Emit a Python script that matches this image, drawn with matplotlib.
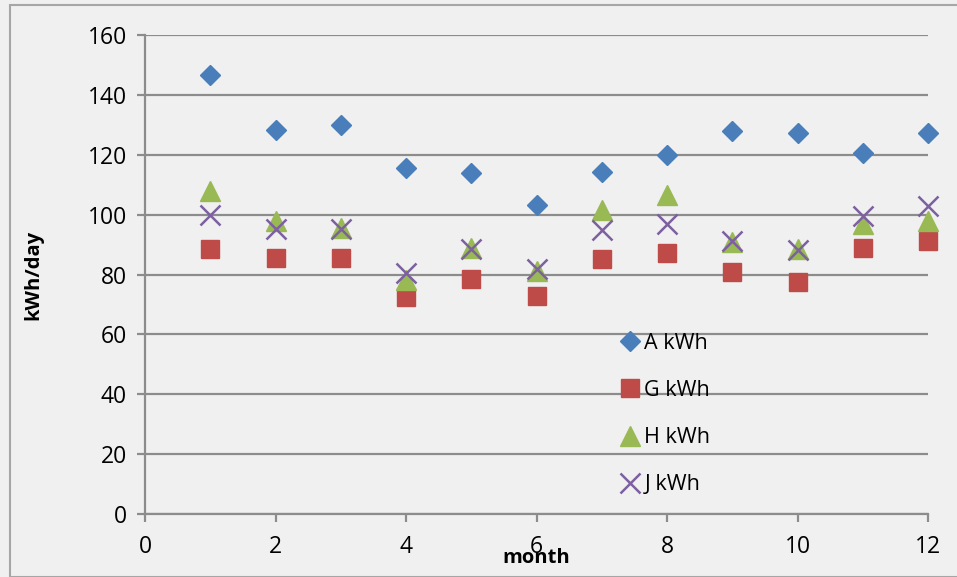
import numpy as np
import matplotlib.pyplot as plt
from matplotlib.patches import Rectangle

# data
months = [1, 2, 3, 4, 5, 6, 7, 8, 9, 10, 11, 12]
a_kwh = [146.6, 128.3, 129.9, 115.6, 113.9, 103.2, 114.2, 119.9, 127.9, 127.3, 120.6, 127.4]
g_kwh = [88.5, 85.5, 85.5, 72.5, 78.5, 72.8, 85.2, 87.2, 81.0, 77.6, 88.8, 91.2]
h_kwh = [107.9, 98.0, 95.5, 78.0, 89.0, 81.3, 101.4, 106.5, 91.0, 88.5, 97.0, 97.8]
j_kwh = [100.0, 95.2, 95.2, 80.5, 88.5, 81.7, 94.9, 96.9, 91.2, 88.2, 99.5, 102.8]

plt.rcParams['font.family'] = ['Open Sans', 'DejaVu Sans']
bg = '#f0f0f0'
grey = '#8c8c8c'

fig = plt.figure(figsize=(9.57, 5.77), dpi=100, facecolor=bg)
ax = fig.add_axes([145/957, 1 - 514/577, 783/957, 479/577])
ax.set_facecolor(bg)

# outer chart border
fig.patches.append(Rectangle((10/957, 0), 1, 1 - 5/577, transform=fig.transFigure,
                             fill=False, edgecolor='#a6a6a6', lw=1.5, zorder=0))

ax.plot(months, a_kwh, 'D', color='#4a7ebb', ms=10.5, mec='#4a7ebb', label='A kWh', zorder=3, clip_on=False)
ax.plot(months, g_kwh, 's', color='#be4b48', ms=13, mec='#be4b48', label='G kWh', zorder=3, clip_on=False)
ax.plot(months, h_kwh, '^', color='#98b954', ms=14, mec='#98b954', label='H kWh', zorder=3, clip_on=False)
ax.plot(months, j_kwh, 'x', color='#7d60a0', ms=14, mew=1.8, label='J kWh', zorder=3, clip_on=False)

ax.set_xlim(0, 12)
ax.set_ylim(0, 160)
ax.set_xticks(np.arange(0, 13, 2))
ax.set_yticks(np.arange(0, 161, 20))
ax.grid(axis='y', color=grey, lw=1.6)
ax.set_axisbelow(True)
for s in ['top', 'right']:
    ax.spines[s].set_visible(False)
for s in ['left', 'bottom']:
    ax.spines[s].set_color(grey)
    ax.spines[s].set_linewidth(1.6)
ax.tick_params(axis='both', colors=grey, width=1.6, length=6, labelsize=16.5, labelcolor='black')
ax.tick_params(axis='y', pad=7)
ax.tick_params(axis='x', pad=9)

ax.set_ylabel('kWh/day', fontsize=14.5, fontweight='bold', labelpad=32)
ax.set_xlabel('month', fontsize=14.5, fontweight='bold', labelpad=-8)

ax.legend(loc='upper left', bbox_to_anchor=(612/957, 1 - 324/577),
          bbox_transform=fig.transFigure, frameon=False, fontsize=15.5,
          labelspacing=1.22, handlelength=0.9, handletextpad=0.2, borderaxespad=0)

fig.savefig('out.png', dpi=100, facecolor=bg)
